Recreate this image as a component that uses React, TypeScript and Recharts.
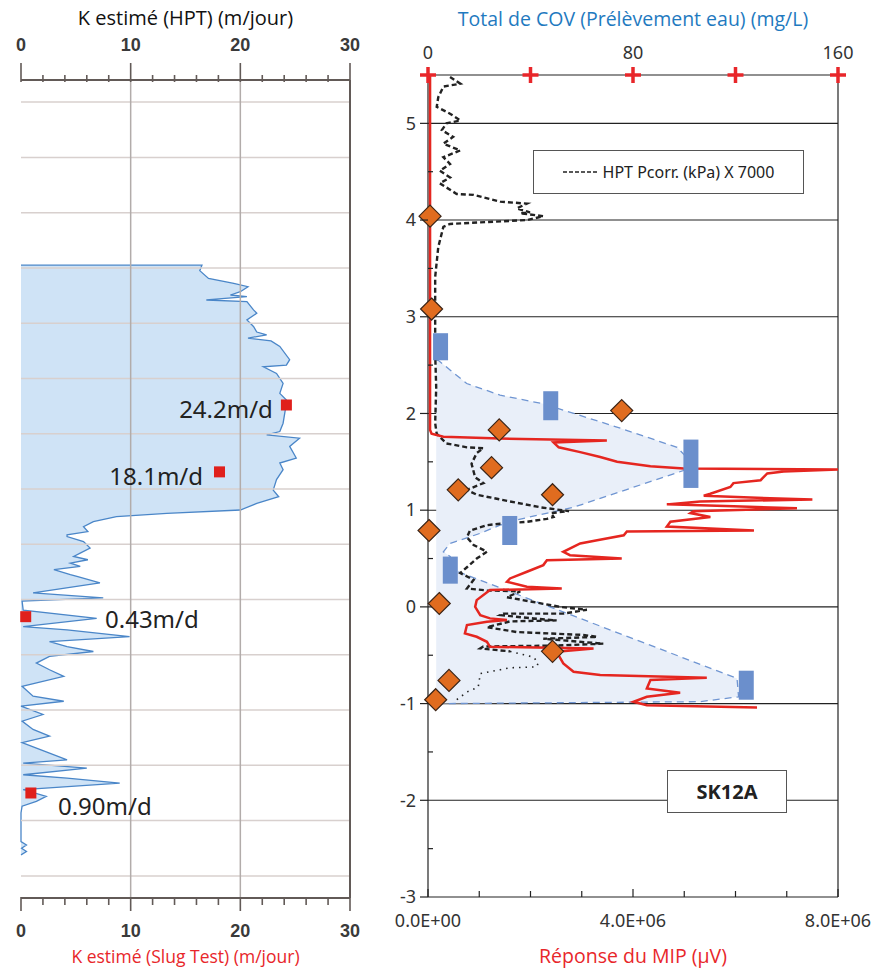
import React from 'react';
import { ComposedChart, Area, Scatter, XAxis, YAxis, ReferenceLine, Legend } from 'recharts';

// ---------- left panel : K estimé (HPT) vs profondeur ----------
// [profondeur (unités du panneau), K (m/jour)]
const kProfile: [number, number][] = [
  [2.95, 0], [2.95, 16.5], [3.05, 16.3], [3.19, 17.1], [3.28, 19.4], [3.34, 20.7], [3.43, 20.0],
  [3.49, 19.1], [3.52, 20.6], [3.58, 16.9], [3.61, 20.6], [3.76, 21.2], [3.82, 21.5], [3.94, 20.6],
  [4.06, 21.2], [4.16, 21.5], [4.21, 22.4], [4.27, 20.7], [4.32, 22.8], [4.42, 23.6], [4.66, 24.5],
  [4.76, 24.2], [4.79, 22.1], [4.91, 23.3], [5.09, 23.9], [5.27, 23.6], [5.39, 24.2], [5.57, 24.1],
  [5.81, 23.9], [5.96, 23.6], [6.02, 22.4], [6.08, 25.4], [6.23, 24.5], [6.44, 25.1], [6.53, 23.6],
  [6.65, 23.9], [6.83, 23.3], [7.02, 23.0], [7.14, 23.5], [7.26, 21.5], [7.38, 20.0], [7.44, 13.3],
  [7.5, 8.7], [7.59, 6.6], [7.68, 5.7], [7.77, 6.1], [7.83, 4.2], [7.86, 4.2], [7.95, 5.7],
  [8.07, 6.3], [8.16, 5.4], [8.22, 4.8], [8.28, 6.1], [8.34, 4.5], [8.4, 5.4], [8.46, 3.0],
  [8.55, 4.5], [8.58, 5.1], [8.7, 7.2], [8.88, 1.1], [8.97, 7.5], [9.03, 0.1], [9.19, 0.2],
  [9.34, 6.9], [9.49, 0.2], [9.55, 4.2], [9.67, 9.9], [9.76, 2.6], [9.85, 4.2], [9.94, 6.6],
  [10.03, 2.6], [10.15, 1.4], [10.27, 2.6], [10.39, 3.9], [10.57, 0.1], [10.75, 1.1], [10.84, 3.9],
  [10.93, 0], [11.08, 2.0], [11.2, 0.1], [11.35, 1.1], [11.47, 2.6], [11.59, 0.1], [11.78, 2.6],
  [11.9, 4.2], [11.96, 0.2], [12.05, 6.0], [12.17, 0.2], [12.23, 4.2], [12.32, 9.0], [12.44, 0.2],
  [12.56, 2.3], [12.65, 1.4], [12.74, 0.1], [12.86, 0], [13.38, 0], [13.44, 0.5], [13.5, 0.05],
  [13.56, 0.5], [13.62, 0],
];
// essais de perméabilité (slug test) : [profondeur, K]
const slugTests: [number, number][] = [[5.48, 24.2], [6.69, 18.1], [9.31, 0.43], [12.5, 0.9]];
const slugLabels = ['24.2m/d', '18.1m/d', '0.43m/d', '0.90m/d'];
// où poser chaque étiquette : [profondeur, K, ancrage]
const slugNoteSpots: [number, number, 'start' | 'end'][] = [
  [5.57, 22.97, 'end'], [6.78, 16.6, 'end'], [9.37, 7.66, 'start'], [12.75, 3.37, 'start'],
];
const kTicks = [0, 2, 4, 6, 8, 10, 12, 14, 16, 18, 20, 22, 24, 26, 28, 30];
const depthGrid = [0, 1, 2, 3, 4, 5, 6, 7, 8, 9, 10, 11, 12, 13, 14];

// ---------- right panel : MIP / HPT / COV vs élévation ----------
const elevTicks = [-3, -2.5, -2, -1.5, -1, -0.5, 0, 0.5, 1, 1.5, 2, 2.5, 3, 3.5, 4, 4.5, 5];
const elevGrid = [-2, -1, 0, 1, 2, 3, 4, 5];
const mipTicks = [0, 1e6, 2e6, 3e6, 4e6, 5e6, 6e6, 7e6, 8e6];
const covTicks = [0, 40, 80, 120, 160];

// réponse du MIP : [élévation, µV x 1E6]
const mipProfile: [number, number][] = [
  [5.5, 0.04], [1.83, 0.04], [1.79, 0.07], [1.76, 0.3], [1.74, 1.41], [1.72, 3.49], [1.7, 2.45],
  [1.65, 2.55], [1.6, 2.97], [1.55, 3.36], [1.5, 3.69], [1.455, 4.34], [1.43, 4.99], [1.42, 8.0],
  [1.4, 6.94], [1.38, 6.62], [1.31, 6.49], [1.28, 5.96], [1.24, 5.9], [1.17, 5.51], [1.15, 5.38],
  [1.13, 6.29], [1.11, 7.5], [1.09, 5.31], [1.06, 4.66], [1.04, 5.96], [1.02, 7.2], [0.99, 5.18],
  [0.97, 5.12], [0.93, 5.51], [0.88, 4.73], [0.83, 4.66], [0.79, 6.36], [0.78, 3.88], [0.74, 3.82],
  [0.69, 3.3], [0.656, 2.97], [0.569, 2.64], [0.535, 2.77], [0.5, 3.78], [0.483, 2.32], [0.432, 2.25],
  [0.363, 1.93], [0.294, 1.6], [0.26, 1.54], [0.208, 1.93], [0.191, 2.61], [0.174, 1.21], [0.07, 0.95],
  [0.0, 0.92], [-0.085, 1.02], [-0.119, 1.21], [-0.136, 1.54], [-0.154, 1.15], [-0.188, 0.76],
  [-0.274, 0.72], [-0.309, 0.95], [-0.361, 1.15], [-0.413, 1.21], [-0.43, 3.23], [-0.464, 2.51],
  [-0.585, 2.64], [-0.671, 2.84], [-0.705, 3.36], [-0.733, 5.44], [-0.757, 4.34], [-0.843, 4.27],
  [-0.888, 4.92], [-0.93, 4.27], [-0.981, 4.01], [-1.016, 4.27], [-1.04, 6.42],
];
// HPT Pcorr. (kPa) X 7000 : [élévation, µV x 1E6]
const hptDashed: [number, number][] = [
  [5.48, 0.43], [5.41, 0.63], [5.38, 0.3], [5.27, 0.2], [5.17, 0.17], [5.1, 0.43], [5.03, 0.63],
  [5.0, 0.36], [4.93, 0.27], [4.86, 0.49], [4.79, 0.3], [4.72, 0.63], [4.65, 0.3], [4.58, 0.43],
  [4.51, 0.23], [4.44, 0.43], [4.38, 0.23], [4.27, 0.56], [4.26, 0.89], [4.19, 1.41], [4.17, 1.93],
  [4.12, 1.73], [4.08, 1.99], [4.07, 1.8], [4.04, 2.25], [4.0, 1.93], [3.96, 0.43], [3.93, 0.3],
  [3.72, 0.2], [3.41, 0.14], [3.1, 0.14], [2.62, 0.14], [2.27, 0.16], [1.9, 0.14], [1.79, 0.17],
  [1.69, 0.36], [1.65, 0.76], [1.64, 1.08], [1.59, 0.95], [1.48, 0.85], [1.34, 0.92], [1.28, 1.08],
  [1.21, 0.76], [1.16, 0.95], [1.09, 1.6], [1.03, 2.19], [0.99, 2.75], [0.97, 2.4], [0.93, 2.45],
  [0.91, 2.32], [0.88, 1.93], [0.86, 1.41], [0.845, 1.15], [0.79, 0.82], [0.72, 0.76], [0.64, 0.89],
  [0.57, 1.15], [0.5, 0.95], [0.41, 0.76], [0.35, 0.63], [0.28, 0.89], [0.19, 0.76], [0.17, 1.15],
  [0.16, 1.8], [0.1, 1.54], [0.05, 2.06], [0.0, 2.58], [-0.03, 3.1], [-0.07, 2.64], [-0.07, 1.47],
  [-0.085, 1.41], [-0.12, 2.06], [-0.14, 2.51], [-0.15, 1.6], [-0.21, 1.15], [-0.26, 1.73],
  [-0.29, 3.03], [-0.31, 3.3], [-0.33, 2.25], [-0.38, 3.42], [-0.4, 2.51], [-0.41, 1.08],
  [-0.43, 1.02], [-0.46, 1.6],
];
const hptDotted: [number, number][] = [
  [-0.46, 1.6], [-0.52, 2.06], [-0.58, 2.15], [-0.62, 2.12], [-0.63, 1.6], [-0.65, 1.41],
  [-0.69, 1.02], [-0.83, 0.98], [-0.88, 0.76], [-0.96, 0.56],
];
// échantillons de sol (losanges) : [élévation, µV x 1E6]
const soilPoints: [number, number][] = [
  [4.04, 0.04], [3.08, 0.07], [2.03, 3.78], [1.83, 1.39], [1.44, 1.24], [1.21, 0.59], [1.16, 2.43],
  [0.79, 0.02], [0.035, 0.22], [-0.46, 2.43], [-0.76, 0.41], [-0.96, 0.15],
];
// COV prélèvement eau : [mg/L, élévation haut, élévation bas]
const covSamples: [number, number, number][] = [
  [4.9, 2.83, 2.55], [47.9, 2.23, 1.93], [102.6, 1.73, 1.23], [31.9, 0.94, 0.64],
  [8.7, 0.52, 0.24], [124.2, -0.66, -0.96],
];
// enveloppe du panache : [mg/L, élévation]
const plumeOutline: [number, number][] = [
  [3.2, 2.55], [4.0, 2.55], [8.6, 2.45], [15.1, 2.31], [28.1, 2.19], [45.0, 2.1], [50.9, 2.05],
  [73.7, 1.86], [97.2, 1.65], [102.6, 1.5], [99.7, 1.41], [56.8, 1.03], [34.7, 0.9], [28.1, 0.845],
  [20.3, 0.76], [8.6, 0.655], [6.0, 0.57], [8.7, 0.52], [8.7, 0.38], [11.8, 0.363], [120.6, -0.74],
  [121.2, -0.93], [106.3, -0.98], [7.3, -1.0], [3.2, -1.0],
];

const kTable = kProfile.map(([d, k]) => ({ d, k }));
const slugTable = slugTests.map(([d, k]) => ({ d, k }));
const noteTable = slugNoteSpots.map(([d, k, anchor], i) => ({ d, k, anchor, text: slugLabels[i] }));
const mipTable = mipProfile.map(([y, v]) => ({ x: v * 1e6, y }));
const hptDashTable = hptDashed.map(([y, v]) => ({ x: v * 1e6, y }));
const hptDotTable = hptDotted.map(([y, v]) => ({ x: v * 1e6, y }));
const soilTable = soilPoints.map(([y, v]) => ({ x: v * 1e6, y }));
const covTable = covSamples.flatMap(([x, top, bottom]) => [{ x, y: top }, { x, y: bottom }]);
const plumeTable = plumeOutline.map(([x, y]) => ({ x, y }));

const TITLE_FONT = '"Open Sans", "Noto Sans", sans-serif';
const TICK_FONT = '"Noto Sans", "Liberation Sans", sans-serif';
const RED = '#e8262a';
const FRAME = '#625a57';

const noDot = () => <g />;

const KTickTop = ({ x, y, payload }: any) => {
  const v = payload.value;
  const major = v % 10 === 0;
  return (
    <g>
      <line x1={x} x2={x} y1={major ? y - 17 : y - 5} y2={y + 2} stroke={FRAME} strokeWidth={1.6} />
      {major && (
        <text x={x} y={y - 35} dy="0.35em" textAnchor="middle" fontFamily='"Liberation Sans", sans-serif'
          fontWeight="bold" fontSize={18} fill="#3a3a3a">{v}</text>
      )}
    </g>
  );
};

const KTickBottom = ({ x, y, payload }: any) => {
  const v = payload.value;
  const major = v % 10 === 0;
  return (
    <g>
      <line x1={x} x2={x} y1={y - 1} y2={major ? y + 13 : y + 7} stroke={FRAME} strokeWidth={1.6} />
      {major && (
        <text x={x} y={y + 33} dy="0.35em" textAnchor="middle" fontFamily='"Liberation Sans", sans-serif'
          fontWeight="bold" fontSize={18} fill="#3a3a3a">{v}</text>
      )}
    </g>
  );
};

const SlugSquare = ({ cx, cy }: any) => (
  <rect x={cx - 5.5} y={cy - 5.5} width={11} height={11} fill="#e0201c" />
);

const SlugNote = ({ cx, cy, payload }: any) => (
  <text x={cx} y={cy} dy="0.35em" textAnchor={payload.anchor} fontFamily={TICK_FONT} fontSize={24} fill="#222">
    {payload.text}
  </text>
);

const ElevTick = ({ x, y, payload }: any) => {
  const v = payload.value;
  const major = Number.isInteger(v);
  return (
    <g>
      {major
        ? <line x1={x - 8} x2={x} y1={y} y2={y} stroke="#222" strokeWidth={1.2} />
        : <line x1={x} x2={x + 5} y1={y} y2={y} stroke="#222" strokeWidth={1.2} />}
      {major && (
        <text x={x - 12} y={y} dy="0.35em" textAnchor="end" fontFamily={TICK_FONT} fontSize={18} fill="#333">{v}</text>
      )}
    </g>
  );
};

const fmtMip = (v: number) => (v === 0 ? '0.0E+00' : `${(v / 1e6).toFixed(1)}E+06`);

const MipTick = ({ x, y, payload }: any) => {
  const v = payload.value;
  const major = v % 4e6 === 0;
  return (
    <g>
      <line x1={x} x2={x} y1={y - (major ? 8 : 6)} y2={y} stroke="#222" strokeWidth={1.2} />
      {major && (
        <text x={x} y={y + 24} dy="0.35em" textAnchor="middle" fontFamily={TICK_FONT} fontSize={18} fill="#333">{fmtMip(v)}</text>
      )}
    </g>
  );
};

const CovTick = ({ x, y, payload }: any) => {
  const v = payload.value;
  return (
    <g>
      <line x1={x - 8} x2={x + 8} y1={y} y2={y} stroke={RED} strokeWidth={3.5} />
      <line x1={x} x2={x} y1={y - 8} y2={y + 8} stroke={RED} strokeWidth={3.5} />
      {v % 80 === 0 && (
        <text x={x} y={y - 22} dy="0.35em" textAnchor="middle" fontFamily={TICK_FONT} fontSize={18} fill="#333">{v}</text>
      )}
    </g>
  );
};

const Diamond = ({ cx, cy }: any) => (
  <polygon
    points={`${cx},${cy - 11} ${cx + 11},${cy} ${cx},${cy + 11} ${cx - 11},${cy}`}
    fill="#e06c1f" stroke="#3b2416" strokeWidth={1.2}
  />
);

const renderPlume = (props: any) => {
  const pts: { x: number; y: number }[] = props.points ?? [];
  if (!pts.length) return <g />;
  const d = pts.map((p, i) => `${i ? 'L' : 'M'}${p.x},${p.y}`).join(' ');
  return (
    <g>
      <path d={`${d} Z`} fill="#e9eff9" stroke="none" />
      <path d={d} fill="none" stroke="#6f95d2" strokeWidth={1.3} strokeDasharray="7 5" />
    </g>
  );
};

// chaque paire de points (haut, bas) devient une barre d'intervalle
const renderSamples = (props: any) => {
  const pts: { x: number; y: number }[] = props.points ?? [];
  const bars = [];
  for (let i = 0; i + 1 < pts.length; i += 2) {
    const a = pts[i];
    const b = pts[i + 1];
    bars.push(
      <rect key={i} x={a.x - 7.5} y={Math.min(a.y, b.y)} width={15} height={Math.abs(b.y - a.y)} fill="#6b8fcc" />,
    );
  }
  return <g>{bars}</g>;
};

const HptLegend = () => (
  <div
    style={{
      boxSizing: 'border-box', width: 271, height: 44, border: '1px solid #555', background: '#fff',
      display: 'flex', alignItems: 'center', justifyContent: 'center', fontFamily: TICK_FONT,
      fontSize: 16, color: '#222',
    }}
  >
    <svg width={34} height={10} style={{ marginRight: 6 }}>
      <line x1={0} x2={34} y1={5} y2={5} stroke="#222" strokeWidth={1.5} strokeDasharray="4 2" />
    </svg>
    HPT Pcorr. (kPa) X 7000
  </div>
);

export default function App() {
  return (
    <div style={{ position: 'absolute', left: 0, top: 0, width: 875, height: 968, background: '#fff', overflow: 'hidden' }}>
      <div style={{ position: 'absolute', left: 0, top: 0 }}>
        <ComposedChart layout="vertical" width={370} height={968} data={kTable}
          margin={{ top: 0, right: 20, bottom: 0, left: 21 }}>
          <XAxis xAxisId="top" orientation="top" type="number" dataKey="k" domain={[0, 30]} ticks={kTicks}
            interval={0} height={80} tickSize={0} tickMargin={0} tickLine={false}
            axisLine={{ stroke: FRAME, strokeWidth: 2 }} tick={<KTickTop />}
            label={{ value: 'K estimé (HPT) (m/jour)', position: 'insideTop', offset: 11, fill: '#111', fontSize: 20, fontFamily: TITLE_FONT }} />
          <XAxis xAxisId="bot" orientation="bottom" type="number" dataKey="k" domain={[0, 30]} ticks={kTicks}
            interval={0} height={70} tickSize={0} tickMargin={0} tickLine={false}
            axisLine={{ stroke: FRAME, strokeWidth: 2 }} tick={<KTickBottom />}
            label={{ value: 'K estimé (Slug Test) (m/jour)', position: 'insideBottom', offset: 5, fill: RED, fontSize: 17.5, fontFamily: TITLE_FONT }} />
          <YAxis type="number" dataKey="d" domain={[-0.4, 14.4]} width={0} tick={false} tickLine={false}
            axisLine={{ stroke: FRAME, strokeWidth: 2 }} />
          <Area xAxisId="bot" dataKey="k" type="linear" stroke="#4a86c8" strokeWidth={1.3}
            fill="#9fc8ee" fillOpacity={0.5} isAnimationActive={false} />
          {depthGrid.map((d) => (
            <ReferenceLine key={d} xAxisId="bot" y={d} stroke="#d8d0ce" strokeWidth={1.5} />
          ))}
          {[10, 20].map((k) => (
            <ReferenceLine key={k} xAxisId="bot" x={k} stroke="#b2acaa" strokeWidth={1.5} />
          ))}
          <ReferenceLine xAxisId="bot" x={30} stroke={FRAME} strokeWidth={2} />
          <Scatter xAxisId="bot" data={slugTable} shape={<SlugSquare />} isAnimationActive={false} />
          <Scatter xAxisId="bot" data={noteTable} shape={<SlugNote />} isAnimationActive={false} />
        </ComposedChart>
      </div>

      <div style={{ position: 'absolute', left: 370, top: 0 }}>
        <ComposedChart width={505} height={968} margin={{ top: 0, right: 37, bottom: 0, left: 18 }}>
          <XAxis xAxisId="cov" orientation="top" type="number" dataKey="x" domain={[0, 160]} ticks={covTicks}
            interval={0} height={75} tickSize={0} tickMargin={0} tickLine={false}
            axisLine={{ stroke: '#222', strokeWidth: 1.2 }} tick={<CovTick />}
            label={{ value: 'Total de COV (Prélèvement eau) (mg/L)', position: 'insideTop', offset: 12, fill: '#1f7ac0', fontSize: 19.5, fontFamily: TITLE_FONT }} />
          <XAxis xAxisId="mip" orientation="bottom" type="number" dataKey="x" domain={[0, 8e6]} ticks={mipTicks}
            interval={0} height={71} tickSize={0} tickMargin={0} tickLine={false}
            axisLine={{ stroke: '#222', strokeWidth: 1.2 }} tick={<MipTick />}
            label={{ value: 'Réponse du MIP (µV)', position: 'insideBottom', offset: 5, fill: RED, fontSize: 19.5, fontFamily: TITLE_FONT }} />
          <YAxis type="number" dataKey="y" domain={[-3, 5.5]} ticks={elevTicks} interval={0} width={40}
            tickSize={0} tickMargin={0} tickLine={false} axisLine={{ stroke: '#222', strokeWidth: 1.2 }}
            tick={<ElevTick />} />
          {elevGrid.map((v) => (
            <ReferenceLine key={v} xAxisId="mip" y={v} stroke="#222" strokeWidth={1.1} />
          ))}
          <ReferenceLine xAxisId="mip" x={8e6} stroke="#222" strokeWidth={1.2} />
          <Scatter xAxisId="cov" data={plumeTable} shape={noDot} line={renderPlume} isAnimationActive={false} />
          <Scatter xAxisId="mip" data={hptDashTable} shape={noDot} isAnimationActive={false}
            line={{ stroke: '#222', strokeWidth: 2.4, strokeDasharray: '5 3' }} />
          <Scatter xAxisId="mip" data={hptDotTable} shape={noDot} isAnimationActive={false}
            line={{ stroke: '#222', strokeWidth: 1.6, strokeDasharray: '1.5 5' }} />
          <Scatter xAxisId="mip" data={mipTable} shape={noDot} isAnimationActive={false}
            line={{ stroke: '#e52620', strokeWidth: 2.5 }} />
          <Scatter xAxisId="cov" data={covTable} shape={noDot} line={renderSamples} isAnimationActive={false} />
          <Scatter xAxisId="mip" data={soilTable} shape={<Diamond />} isAnimationActive={false} />
          <Legend layout="horizontal" verticalAlign="middle" align="center" content={<HptLegend />}
            wrapperStyle={{ left: 163, top: 150, width: 271, height: 44 }} />
        </ComposedChart>
        <div
          style={{
            position: 'absolute', left: 297, top: 770, width: 120, height: 43, boxSizing: 'border-box',
            border: '1.5px solid #555', background: '#fff', display: 'flex', alignItems: 'center',
            justifyContent: 'center', fontFamily: TICK_FONT, fontWeight: 'bold', fontSize: 20, color: '#222',
          }}
        >
          SK12A
        </div>
      </div>
    </div>
  );
}
